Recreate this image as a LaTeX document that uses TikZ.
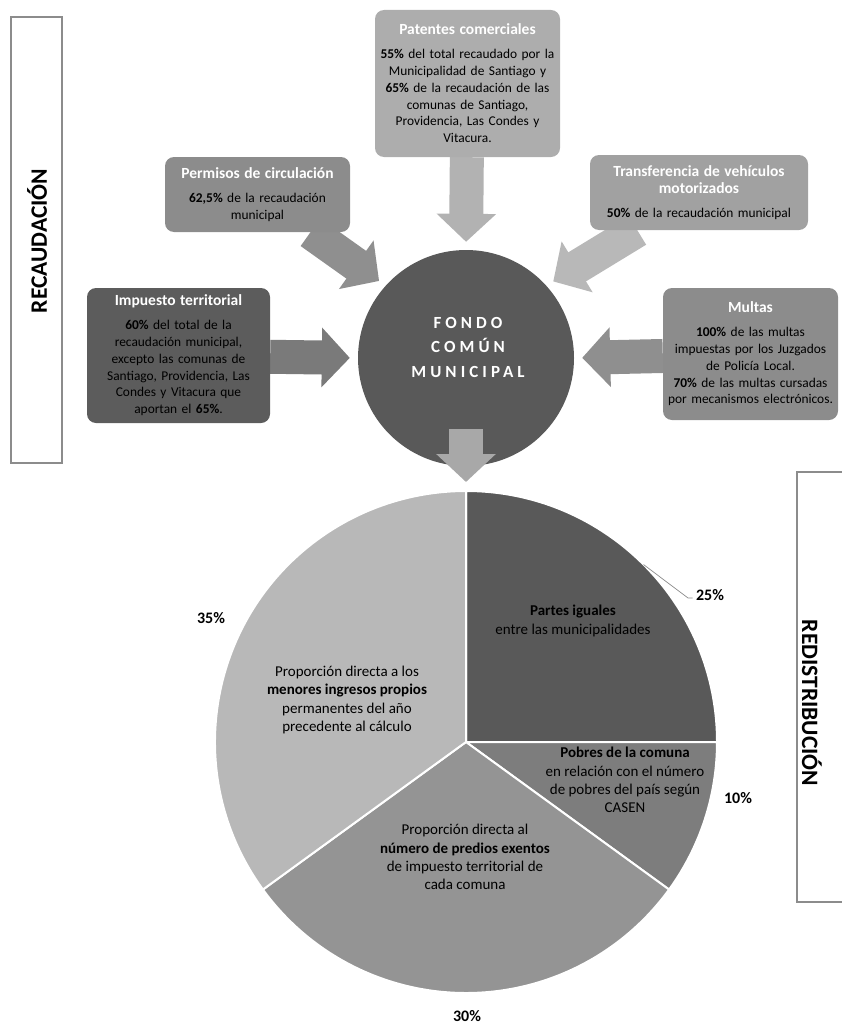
\documentclass[tikz,border=0pt]{standalone}
\usepackage{fontspec}
\setmainfont{Carlito}
\usetikzlibrary{arrows.meta,calc}
\pgfdeclarelayer{background}
\pgfsetlayers{background,main}

\definecolor{boxpat}{gray}{0.68}
\definecolor{boxperm}{gray}{0.55}
\definecolor{boxtrans}{gray}{0.63}
\definecolor{boximp}{gray}{0.36}
\definecolor{boxmul}{gray}{0.55}
\definecolor{fondogray}{gray}{0.35}
\definecolor{arrpat}{gray}{0.70}
\definecolor{arrperm}{gray}{0.56}
\definecolor{arrtrans}{gray}{0.72}
\definecolor{arrimp}{gray}{0.48}
\definecolor{arrmul}{gray}{0.56}
\definecolor{arrdown}{gray}{0.66}
\definecolor{slicea}{gray}{0.35}
\definecolor{sliceb}{gray}{0.49}
\definecolor{slicec}{gray}{0.58}
\definecolor{sliced}{gray}{0.72}
\definecolor{framegray}{gray}{0.55}

\newcommand\srchead[1]{{\color{white}\bfseries\fontsize{15.5}{17.5}\selectfont #1}\\[7pt]}

\begin{document}
\begin{tikzpicture}[x=1pt,y=1pt,
  srcbox/.style={rounded corners=9pt, align=center, inner sep=0pt,
    font=\fontsize{13.4}{16.8}\selectfont},
  flowarrow/.style={line width=34pt, -{Triangle[length=28pt,width=58pt]},
    shorten >=8pt},
  slice/.style={draw=white, line width=2pt},
  slicetext/.style={align=center, font=\fontsize{15}{18.2}\selectfont},
  pct/.style={font=\bfseries\fontsize{16}{18}\selectfont},
  sidebox/.style={draw=framegray, line width=1.2pt, inner sep=0pt},
  sidetext/.style={font=\bfseries\fontsize{23.5}{26}\selectfont}]
  \useasboundingbox (0,0) rectangle (841,-1025);

  \node[sidebox, minimum width=51pt, minimum height=446pt] (recaud) at (36.5,-240) {};
  \node[sidetext, rotate=90] (recaudtext) at (37,-241) {RECAUDACIÓN};
  \node[sidebox, minimum width=50pt, minimum height=430pt] (redis) at (822,-687) {};
  \node[sidetext, rotate=-90] (redistext) at (812,-703) {REDISTRIBUCIÓN};

  \node[srcbox, fill=boxpat, minimum width=185pt, minimum height=147pt,
    text width=183pt] (pat) at (467.5,-83.5)
    {\srchead{Patentes comerciales}
     \textbf{55\%} del total recaudado por la\\ Municipalidad de Santiago y\\
     \textbf{65\%} de la recaudación de las\\ comunas de Santiago,\\
     Providencia, Las Condes y\\ Vitacura.};
  \node[srcbox, fill=boxperm, minimum width=185pt, minimum height=75pt,
    text width=183pt] (perm) at (257.5,-194.5)
    {\srchead{Permisos de circulación}
     \textbf{62,5\%} de la recaudación\\ municipal};
  \node[srcbox, fill=boxtrans, minimum width=218pt, minimum height=75pt,
    text width=216pt] (trans) at (699,-192.5)
    {\srchead{Transferencia de vehículos\\ motorizados}
     \textbf{50\%} de la recaudación municipal};
  \node[srcbox, fill=boximp, minimum width=183pt, minimum height=135pt,
    text width=181pt] (imp) at (178.5,-355.5)
    {\srchead{Impuesto territorial}
     \textbf{60\%} del total de la\\ recaudación municipal,\\
     excepto las comunas de\\ Santiago, Providencia, Las\\
     Condes y Vitacura que\\ aportan el \textbf{65\%}.};
  \node[srcbox, fill=boxmul, minimum width=175pt, minimum height=132pt,
    text width=175pt] (mul) at (750.5,-354)
    {\srchead{Multas}
     \textbf{100\%} de las multas\\ impuestas por los Juzgados\\
     de Policía Local.\\ \textbf{70\%} de las multas cursadas\\
     por mecanismos electrónicos.};

  \node[circle, fill=fondogray, minimum size=216pt, inner sep=0pt] (fondo) at (466,-358) {};
  \node[align=center, text=white, font=\bfseries\fontsize{17}{24.5}\selectfont\addfontfeature{LetterSpace=24}]
    (fondotext) at (468,-347) {FONDO\\ COMÚN\\ MUNICIPAL};

  \coordinate (pie) at (466,-742);
  \coordinate (pietop) at ($(pie)+(90:251pt)$);
  \path[slice, fill=slicea] (pie) -- ++(90:251pt) arc[start angle=90, end angle=0, radius=251pt] -- cycle;
  \path[slice, fill=sliceb] (pie) -- ++(0:251pt) arc[start angle=0, end angle=-36, radius=251pt] -- cycle;
  \path[slice, fill=slicec] (pie) -- ++(-36:251pt) arc[start angle=-36, end angle=-144, radius=251pt] -- cycle;
  \path[slice, fill=sliced] (pie) -- ++(-144:251pt) arc[start angle=-144, end angle=-270, radius=251pt] -- cycle;

  \node[slicetext] (partes) at (573,-621)
    {\textbf{Partes iguales}\\ entre las municipalidades};
  \node[slicetext] (pobres) at (625,-780)
    {\textbf{Pobres de la comuna}\\ en relación con el número\\ de pobres del país según\\ CASEN};
  \node[slicetext] (predios) at (465,-857)
    {Proporción directa al\\ \textbf{número de predios exentos}\\ de impuesto territorial de\\ cada comuna};
  \node[slicetext] (menores) at (347,-700)
    {Proporción directa a los\\ \textbf{menores ingresos propios}\\ permanentes del año\\ precedente al cálculo};

  \node[pct] (p25) at (710,-595) {25\%};
  \node[pct] (p35) at (211,-618) {35\%};
  \node[pct] (p10) at (738,-798) {10\%};
  \node[pct] (p30) at (467,-1016) {30\%};
  \coordinate (edge25) at ($(pie)+(45:251pt)$);
  \coordinate (knee25) at (688,-598);
  \draw[framegray, line width=0.7pt] (edge25) -- (knee25) -- (knee25 -| p25.west);

  \begin{pgfonlayer}{background}
    \draw[flowarrow, arrpat] (pat) -- (fondo.north);
    \draw[flowarrow, arrperm] (perm) -- (fondo.138);
    \draw[flowarrow, arrtrans] (trans) -- (fondo.42);
    \draw[flowarrow, arrimp] (imp) -- (fondo.west);
    \draw[flowarrow, arrmul] (mul) -- (fondo.east);
  \end{pgfonlayer}
  \draw[flowarrow, arrdown, shorten <=37pt, shorten >=9pt] (fondo) -- (pietop);
\end{tikzpicture}
\end{document}
